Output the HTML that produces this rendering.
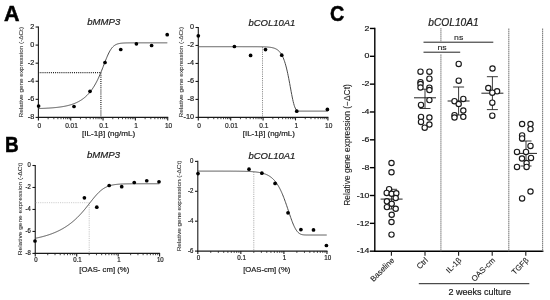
<!DOCTYPE html>
<html><head><meta charset="utf-8"><style>
html,body{margin:0;padding:0;background:#fff;}
svg{display:block;font-family:'Liberation Sans', sans-serif;filter:grayscale(1);}
text{stroke:#1a1a1a;stroke-width:0.1px;paint-order:stroke;}
text.nb{stroke:none;}
text.lab{stroke-width:0.2px;}
text.big{stroke:#000;stroke-width:0.5px;}
</style></head><body>
<svg width="550" height="300" viewBox="0 0 550 300">
<rect width="550" height="300" fill="#fff"/>
<text x="3.9" y="20.8" font-size="21.5" text-anchor="start" fill="#000" font-weight="bold" class="big">A</text>
<text transform="translate(5.00,151.50) scale(0.88,1)" font-size="21.5" text-anchor="start" fill="#000" font-weight="bold" class="big">B</text>
<text transform="translate(329.90,20.60) scale(0.92,1)" font-size="21.5" text-anchor="start" fill="#000" font-weight="bold" class="big">C</text>
<line x1="38.4" y1="26.470000000000002" x2="38.4" y2="117.96999999999998" stroke="#1a1a1a" stroke-width="1.1"/>
<line x1="35.6" y1="27.020000000000003" x2="38.4" y2="27.020000000000003" stroke="#1a1a1a" stroke-width="1.1"/>
<text transform="translate(34.30,28.76) scale(0.92,1)" font-size="7.9" text-anchor="end" fill="#1a1a1a" class="lab">2</text>
<line x1="35.6" y1="45.1" x2="38.4" y2="45.1" stroke="#1a1a1a" stroke-width="1.1"/>
<text transform="translate(34.30,46.84) scale(0.92,1)" font-size="7.9" text-anchor="end" fill="#1a1a1a" class="lab">0</text>
<line x1="35.6" y1="63.18" x2="38.4" y2="63.18" stroke="#1a1a1a" stroke-width="1.1"/>
<text transform="translate(34.30,64.92) scale(0.92,1)" font-size="7.9" text-anchor="end" fill="#1a1a1a" class="lab">-2</text>
<line x1="35.6" y1="81.25999999999999" x2="38.4" y2="81.25999999999999" stroke="#1a1a1a" stroke-width="1.1"/>
<text transform="translate(34.30,83.00) scale(0.92,1)" font-size="7.9" text-anchor="end" fill="#1a1a1a" class="lab">-4</text>
<line x1="35.6" y1="99.34" x2="38.4" y2="99.34" stroke="#1a1a1a" stroke-width="1.1"/>
<text transform="translate(34.30,101.08) scale(0.92,1)" font-size="7.9" text-anchor="end" fill="#1a1a1a" class="lab">-6</text>
<line x1="35.6" y1="117.41999999999999" x2="38.4" y2="117.41999999999999" stroke="#1a1a1a" stroke-width="1.1"/>
<text transform="translate(34.30,119.16) scale(0.92,1)" font-size="7.9" text-anchor="end" fill="#1a1a1a" class="lab">-8</text>
<line x1="37.85" y1="117.41999999999999" x2="168.22" y2="117.41999999999999" stroke="#1a1a1a" stroke-width="1.1"/>
<line x1="38.4" y1="117.41999999999999" x2="38.4" y2="120.41999999999999" stroke="#1a1a1a" stroke-width="1.1"/>
<text transform="translate(39.20,127.72) scale(0.83,1)" font-size="7.9" text-anchor="middle" fill="#1a1a1a" class="lab">0</text>
<line x1="48.13" y1="117.41999999999999" x2="48.13" y2="119.21999999999998" stroke="#1a1a1a" stroke-width="0.8"/>
<line x1="53.83" y1="117.41999999999999" x2="53.83" y2="119.21999999999998" stroke="#1a1a1a" stroke-width="0.8"/>
<line x1="57.86" y1="117.41999999999999" x2="57.86" y2="119.21999999999998" stroke="#1a1a1a" stroke-width="0.8"/>
<line x1="61.00" y1="117.41999999999999" x2="61.00" y2="119.21999999999998" stroke="#1a1a1a" stroke-width="0.8"/>
<line x1="63.56" y1="117.41999999999999" x2="63.56" y2="119.21999999999998" stroke="#1a1a1a" stroke-width="0.8"/>
<line x1="65.72" y1="117.41999999999999" x2="65.72" y2="119.21999999999998" stroke="#1a1a1a" stroke-width="0.8"/>
<line x1="67.60" y1="117.41999999999999" x2="67.60" y2="119.21999999999998" stroke="#1a1a1a" stroke-width="0.8"/>
<line x1="69.25" y1="117.41999999999999" x2="69.25" y2="119.21999999999998" stroke="#1a1a1a" stroke-width="0.8"/>
<line x1="70.72999999999999" y1="117.41999999999999" x2="70.72999999999999" y2="120.41999999999999" stroke="#1a1a1a" stroke-width="1.1"/>
<text transform="translate(71.53,127.72) scale(0.83,1)" font-size="7.9" text-anchor="middle" fill="#1a1a1a" class="lab">0.01</text>
<line x1="80.46" y1="117.41999999999999" x2="80.46" y2="119.21999999999998" stroke="#1a1a1a" stroke-width="0.8"/>
<line x1="86.16" y1="117.41999999999999" x2="86.16" y2="119.21999999999998" stroke="#1a1a1a" stroke-width="0.8"/>
<line x1="90.19" y1="117.41999999999999" x2="90.19" y2="119.21999999999998" stroke="#1a1a1a" stroke-width="0.8"/>
<line x1="93.33" y1="117.41999999999999" x2="93.33" y2="119.21999999999998" stroke="#1a1a1a" stroke-width="0.8"/>
<line x1="95.89" y1="117.41999999999999" x2="95.89" y2="119.21999999999998" stroke="#1a1a1a" stroke-width="0.8"/>
<line x1="98.05" y1="117.41999999999999" x2="98.05" y2="119.21999999999998" stroke="#1a1a1a" stroke-width="0.8"/>
<line x1="99.93" y1="117.41999999999999" x2="99.93" y2="119.21999999999998" stroke="#1a1a1a" stroke-width="0.8"/>
<line x1="101.58" y1="117.41999999999999" x2="101.58" y2="119.21999999999998" stroke="#1a1a1a" stroke-width="0.8"/>
<line x1="103.06" y1="117.41999999999999" x2="103.06" y2="120.41999999999999" stroke="#1a1a1a" stroke-width="1.1"/>
<text transform="translate(103.86,127.72) scale(0.83,1)" font-size="7.9" text-anchor="middle" fill="#1a1a1a" class="lab">0.1</text>
<line x1="112.79" y1="117.41999999999999" x2="112.79" y2="119.21999999999998" stroke="#1a1a1a" stroke-width="0.8"/>
<line x1="118.49" y1="117.41999999999999" x2="118.49" y2="119.21999999999998" stroke="#1a1a1a" stroke-width="0.8"/>
<line x1="122.52" y1="117.41999999999999" x2="122.52" y2="119.21999999999998" stroke="#1a1a1a" stroke-width="0.8"/>
<line x1="125.66" y1="117.41999999999999" x2="125.66" y2="119.21999999999998" stroke="#1a1a1a" stroke-width="0.8"/>
<line x1="128.22" y1="117.41999999999999" x2="128.22" y2="119.21999999999998" stroke="#1a1a1a" stroke-width="0.8"/>
<line x1="130.38" y1="117.41999999999999" x2="130.38" y2="119.21999999999998" stroke="#1a1a1a" stroke-width="0.8"/>
<line x1="132.26" y1="117.41999999999999" x2="132.26" y2="119.21999999999998" stroke="#1a1a1a" stroke-width="0.8"/>
<line x1="133.91" y1="117.41999999999999" x2="133.91" y2="119.21999999999998" stroke="#1a1a1a" stroke-width="0.8"/>
<line x1="135.39" y1="117.41999999999999" x2="135.39" y2="120.41999999999999" stroke="#1a1a1a" stroke-width="1.1"/>
<text transform="translate(136.19,127.72) scale(0.83,1)" font-size="7.9" text-anchor="middle" fill="#1a1a1a" class="lab">1</text>
<line x1="145.12" y1="117.41999999999999" x2="145.12" y2="119.21999999999998" stroke="#1a1a1a" stroke-width="0.8"/>
<line x1="150.82" y1="117.41999999999999" x2="150.82" y2="119.21999999999998" stroke="#1a1a1a" stroke-width="0.8"/>
<line x1="154.85" y1="117.41999999999999" x2="154.85" y2="119.21999999999998" stroke="#1a1a1a" stroke-width="0.8"/>
<line x1="157.99" y1="117.41999999999999" x2="157.99" y2="119.21999999999998" stroke="#1a1a1a" stroke-width="0.8"/>
<line x1="160.55" y1="117.41999999999999" x2="160.55" y2="119.21999999999998" stroke="#1a1a1a" stroke-width="0.8"/>
<line x1="162.71" y1="117.41999999999999" x2="162.71" y2="119.21999999999998" stroke="#1a1a1a" stroke-width="0.8"/>
<line x1="164.59" y1="117.41999999999999" x2="164.59" y2="119.21999999999998" stroke="#1a1a1a" stroke-width="0.8"/>
<line x1="166.24" y1="117.41999999999999" x2="166.24" y2="119.21999999999998" stroke="#1a1a1a" stroke-width="0.8"/>
<line x1="167.72" y1="117.41999999999999" x2="167.72" y2="120.41999999999999" stroke="#1a1a1a" stroke-width="1.1"/>
<text transform="translate(168.52,127.72) scale(0.83,1)" font-size="7.9" text-anchor="middle" fill="#1a1a1a" class="lab">10</text>
<text font-size="6.4" text-anchor="middle" fill="#333" transform="translate(20.6,72.2) scale(0.85,1) rotate(-90)" dy="2.24">Relative gene expression (-ΔCt)</text>
<text x="108.7" y="135.9" font-size="8.1" text-anchor="middle" fill="#1a1a1a" class="lab">[IL-1β] (ng/mL)</text>
<text x="103.8" y="25" font-size="9.6" text-anchor="middle" fill="#1a1a1a" font-style="italic" class="lab">bMMP3</text>
<line x1="38.3" y1="72.6" x2="100.9" y2="72.6" stroke="#222" stroke-width="1.2" stroke-dasharray="1 1.1"/>
<line x1="100.9" y1="72.6" x2="100.9" y2="117.41999999999999" stroke="#222" stroke-width="1.2" stroke-dasharray="1 1.1"/>
<path d="M38.30,108.53 L38.80,108.52 L39.30,108.50 L39.80,108.49 L40.30,108.47 L40.80,108.45 L41.30,108.44 L41.80,108.42 L42.30,108.40 L42.80,108.38 L43.30,108.36 L43.80,108.34 L44.30,108.32 L44.80,108.30 L45.30,108.27 L45.80,108.25 L46.30,108.22 L46.80,108.20 L47.30,108.17 L47.80,108.14 L48.30,108.11 L48.80,108.08 L49.30,108.05 L49.80,108.02 L50.30,107.99 L50.80,107.95 L51.30,107.92 L51.80,107.88 L52.30,107.84 L52.80,107.80 L53.30,107.76 L53.80,107.71 L54.30,107.67 L54.80,107.62 L55.30,107.58 L55.80,107.53 L56.30,107.47 L56.80,107.42 L57.30,107.36 L57.80,107.31 L58.30,107.25 L58.80,107.18 L59.30,107.12 L59.80,107.05 L60.30,106.98 L60.80,106.91 L61.30,106.84 L61.80,106.76 L62.30,106.68 L62.80,106.60 L63.30,106.51 L63.80,106.42 L64.30,106.33 L64.80,106.23 L65.30,106.13 L65.80,106.03 L66.30,105.92 L66.80,105.81 L67.30,105.69 L67.80,105.57 L68.30,105.45 L68.80,105.32 L69.30,105.19 L69.80,105.05 L70.30,104.90 L70.80,104.75 L71.30,104.60 L71.80,104.44 L72.30,104.27 L72.80,104.10 L73.30,103.92 L73.80,103.74 L74.30,103.54 L74.80,103.34 L75.30,103.14 L75.80,102.92 L76.30,102.70 L76.80,102.47 L77.30,102.23 L77.80,101.98 L78.30,101.72 L78.80,101.46 L79.30,101.18 L79.80,100.89 L80.30,100.59 L80.80,100.28 L81.30,99.96 L81.80,99.63 L82.30,99.29 L82.80,98.93 L83.30,98.56 L83.80,98.17 L84.30,97.77 L84.80,97.36 L85.30,96.93 L85.80,96.49 L86.30,96.03 L86.80,95.55 L87.30,95.05 L87.80,94.54 L88.30,94.01 L88.80,93.46 L89.30,92.88 L89.80,92.29 L90.30,91.68 L90.80,91.04 L91.30,90.38 L91.80,89.69 L92.30,88.99 L92.80,88.25 L93.30,87.49 L93.80,86.71 L94.30,85.89 L94.80,85.05 L95.30,84.18 L95.80,83.28 L96.30,82.35 L96.80,81.39 L97.30,80.40 L97.80,79.38 L98.30,78.33 L98.80,77.24 L99.30,76.13 L99.80,74.99 L100.30,73.82 L100.80,72.63 L101.30,71.41 L101.80,70.17 L102.30,68.90 L102.80,67.63 L103.30,66.34 L103.80,65.04 L104.30,63.74 L104.80,62.45 L105.30,61.16 L105.80,59.89 L106.30,58.65 L106.80,57.43 L107.30,56.25 L107.80,55.12 L108.30,54.03 L108.80,52.99 L109.30,52.02 L109.80,51.10 L110.30,50.25 L110.80,49.46 L111.30,48.73 L111.80,48.07 L112.30,47.46 L112.80,46.92 L113.30,46.43 L113.80,45.99 L114.30,45.60 L114.80,45.25 L115.30,44.95 L115.80,44.67 L116.30,44.44 L116.80,44.23 L117.30,44.04 L117.80,43.89 L118.30,43.75 L118.80,43.62 L119.30,43.52 L119.80,43.43 L120.30,43.35 L120.80,43.28 L121.30,43.22 L121.80,43.17 L122.30,43.12 L122.80,43.09 L123.30,43.05 L123.80,43.02 L124.30,43.00 L124.80,42.98 L125.30,42.96 L125.80,42.94 L126.30,42.93 L126.80,42.92 L127.30,42.91 L127.80,42.90 L128.30,42.89 L128.80,42.88 L129.30,42.88 L129.80,42.87 L130.30,42.87 L130.80,42.87 L131.30,42.86 L131.80,42.86 L132.30,42.86 L132.80,42.86 L133.30,42.85 L133.80,42.85 L134.30,42.85 L134.80,42.85 L135.30,42.85 L135.80,42.85 L136.30,42.85 L136.80,42.85 L137.30,42.85 L137.80,42.85 L138.30,42.85 L138.80,42.84 L139.30,42.84 L139.80,42.84 L140.30,42.84 L140.80,42.84 L141.30,42.84 L141.80,42.84 L142.30,42.84 L142.80,42.84 L143.30,42.84 L143.80,42.84 L144.30,42.84 L144.80,42.84 L145.30,42.84 L145.80,42.84 L146.30,42.84 L146.80,42.84 L147.30,42.84 L147.80,42.84 L148.30,42.84 L148.80,42.84 L149.30,42.84 L149.80,42.84 L150.30,42.84 L150.80,42.84 L151.30,42.84 L151.80,42.84 L152.30,42.84 L152.80,42.84 L153.30,42.84 L153.80,42.84 L154.30,42.84 L154.80,42.84 L155.30,42.84 L155.80,42.84 L156.30,42.84 L156.80,42.84 L157.30,42.84 L157.80,42.84 L158.30,42.84 L158.80,42.84 L159.30,42.84 L159.80,42.84 L160.30,42.84 L160.80,42.84 L161.30,42.84 L161.80,42.84 L162.30,42.84 L162.80,42.84 L163.30,42.84 L163.80,42.84 L164.30,42.84 L164.80,42.84 L165.30,42.84 L165.80,42.84 L166.30,42.84 L166.80,42.84 L167.30,42.84" fill="none" stroke="#4a4a4a" stroke-width="1.0" stroke-linejoin="round"/>
<circle cx="38.6" cy="106" r="1.85" fill="#000"/>
<circle cx="74" cy="106.5" r="1.85" fill="#000"/>
<circle cx="90" cy="91.3" r="1.85" fill="#000"/>
<circle cx="105" cy="62.5" r="1.85" fill="#000"/>
<circle cx="120.75" cy="49.5" r="1.85" fill="#000"/>
<circle cx="136.4" cy="43.8" r="1.85" fill="#000"/>
<circle cx="151.6" cy="45.5" r="1.85" fill="#000"/>
<circle cx="167.2" cy="34.7" r="1.85" fill="#000"/>
<line x1="198.3" y1="26.95" x2="198.3" y2="117.95" stroke="#1a1a1a" stroke-width="1.1"/>
<line x1="195.5" y1="27.5" x2="198.3" y2="27.5" stroke="#1a1a1a" stroke-width="1.1"/>
<text transform="translate(194.00,29.24) scale(0.92,1)" font-size="7.9" text-anchor="end" fill="#1a1a1a" class="lab">0</text>
<line x1="195.5" y1="45.480000000000004" x2="198.3" y2="45.480000000000004" stroke="#1a1a1a" stroke-width="1.1"/>
<text transform="translate(194.00,47.22) scale(0.92,1)" font-size="7.9" text-anchor="end" fill="#1a1a1a" class="lab">-2</text>
<line x1="195.5" y1="63.46" x2="198.3" y2="63.46" stroke="#1a1a1a" stroke-width="1.1"/>
<text transform="translate(194.00,65.20) scale(0.92,1)" font-size="7.9" text-anchor="end" fill="#1a1a1a" class="lab">-4</text>
<line x1="195.5" y1="81.44" x2="198.3" y2="81.44" stroke="#1a1a1a" stroke-width="1.1"/>
<text transform="translate(194.00,83.18) scale(0.92,1)" font-size="7.9" text-anchor="end" fill="#1a1a1a" class="lab">-6</text>
<line x1="195.5" y1="99.42" x2="198.3" y2="99.42" stroke="#1a1a1a" stroke-width="1.1"/>
<text transform="translate(194.00,101.16) scale(0.92,1)" font-size="7.9" text-anchor="end" fill="#1a1a1a" class="lab">-8</text>
<line x1="195.5" y1="117.4" x2="198.3" y2="117.4" stroke="#1a1a1a" stroke-width="1.1"/>
<text transform="translate(194.00,119.14) scale(0.92,1)" font-size="7.9" text-anchor="end" fill="#1a1a1a" class="lab">-10</text>
<line x1="197.75" y1="117.4" x2="328.4" y2="117.4" stroke="#1a1a1a" stroke-width="1.1"/>
<line x1="198.3" y1="117.4" x2="198.3" y2="120.4" stroke="#1a1a1a" stroke-width="1.1"/>
<text transform="translate(199.10,127.70) scale(0.83,1)" font-size="7.9" text-anchor="middle" fill="#1a1a1a" class="lab">0</text>
<line x1="208.05" y1="117.4" x2="208.05" y2="119.2" stroke="#1a1a1a" stroke-width="0.8"/>
<line x1="213.76" y1="117.4" x2="213.76" y2="119.2" stroke="#1a1a1a" stroke-width="0.8"/>
<line x1="217.81" y1="117.4" x2="217.81" y2="119.2" stroke="#1a1a1a" stroke-width="0.8"/>
<line x1="220.95" y1="117.4" x2="220.95" y2="119.2" stroke="#1a1a1a" stroke-width="0.8"/>
<line x1="223.51" y1="117.4" x2="223.51" y2="119.2" stroke="#1a1a1a" stroke-width="0.8"/>
<line x1="225.68" y1="117.4" x2="225.68" y2="119.2" stroke="#1a1a1a" stroke-width="0.8"/>
<line x1="227.56" y1="117.4" x2="227.56" y2="119.2" stroke="#1a1a1a" stroke-width="0.8"/>
<line x1="229.22" y1="117.4" x2="229.22" y2="119.2" stroke="#1a1a1a" stroke-width="0.8"/>
<line x1="230.70000000000002" y1="117.4" x2="230.70000000000002" y2="120.4" stroke="#1a1a1a" stroke-width="1.1"/>
<text transform="translate(231.50,127.70) scale(0.83,1)" font-size="7.9" text-anchor="middle" fill="#1a1a1a" class="lab">0.01</text>
<line x1="240.45" y1="117.4" x2="240.45" y2="119.2" stroke="#1a1a1a" stroke-width="0.8"/>
<line x1="246.16" y1="117.4" x2="246.16" y2="119.2" stroke="#1a1a1a" stroke-width="0.8"/>
<line x1="250.21" y1="117.4" x2="250.21" y2="119.2" stroke="#1a1a1a" stroke-width="0.8"/>
<line x1="253.35" y1="117.4" x2="253.35" y2="119.2" stroke="#1a1a1a" stroke-width="0.8"/>
<line x1="255.91" y1="117.4" x2="255.91" y2="119.2" stroke="#1a1a1a" stroke-width="0.8"/>
<line x1="258.08" y1="117.4" x2="258.08" y2="119.2" stroke="#1a1a1a" stroke-width="0.8"/>
<line x1="259.96" y1="117.4" x2="259.96" y2="119.2" stroke="#1a1a1a" stroke-width="0.8"/>
<line x1="261.62" y1="117.4" x2="261.62" y2="119.2" stroke="#1a1a1a" stroke-width="0.8"/>
<line x1="263.1" y1="117.4" x2="263.1" y2="120.4" stroke="#1a1a1a" stroke-width="1.1"/>
<text transform="translate(263.90,127.70) scale(0.83,1)" font-size="7.9" text-anchor="middle" fill="#1a1a1a" class="lab">0.1</text>
<line x1="272.85" y1="117.4" x2="272.85" y2="119.2" stroke="#1a1a1a" stroke-width="0.8"/>
<line x1="278.56" y1="117.4" x2="278.56" y2="119.2" stroke="#1a1a1a" stroke-width="0.8"/>
<line x1="282.61" y1="117.4" x2="282.61" y2="119.2" stroke="#1a1a1a" stroke-width="0.8"/>
<line x1="285.75" y1="117.4" x2="285.75" y2="119.2" stroke="#1a1a1a" stroke-width="0.8"/>
<line x1="288.31" y1="117.4" x2="288.31" y2="119.2" stroke="#1a1a1a" stroke-width="0.8"/>
<line x1="290.48" y1="117.4" x2="290.48" y2="119.2" stroke="#1a1a1a" stroke-width="0.8"/>
<line x1="292.36" y1="117.4" x2="292.36" y2="119.2" stroke="#1a1a1a" stroke-width="0.8"/>
<line x1="294.02" y1="117.4" x2="294.02" y2="119.2" stroke="#1a1a1a" stroke-width="0.8"/>
<line x1="295.5" y1="117.4" x2="295.5" y2="120.4" stroke="#1a1a1a" stroke-width="1.1"/>
<text transform="translate(296.30,127.70) scale(0.83,1)" font-size="7.9" text-anchor="middle" fill="#1a1a1a" class="lab">1</text>
<line x1="305.25" y1="117.4" x2="305.25" y2="119.2" stroke="#1a1a1a" stroke-width="0.8"/>
<line x1="310.96" y1="117.4" x2="310.96" y2="119.2" stroke="#1a1a1a" stroke-width="0.8"/>
<line x1="315.01" y1="117.4" x2="315.01" y2="119.2" stroke="#1a1a1a" stroke-width="0.8"/>
<line x1="318.15" y1="117.4" x2="318.15" y2="119.2" stroke="#1a1a1a" stroke-width="0.8"/>
<line x1="320.71" y1="117.4" x2="320.71" y2="119.2" stroke="#1a1a1a" stroke-width="0.8"/>
<line x1="322.88" y1="117.4" x2="322.88" y2="119.2" stroke="#1a1a1a" stroke-width="0.8"/>
<line x1="324.76" y1="117.4" x2="324.76" y2="119.2" stroke="#1a1a1a" stroke-width="0.8"/>
<line x1="326.42" y1="117.4" x2="326.42" y2="119.2" stroke="#1a1a1a" stroke-width="0.8"/>
<line x1="327.9" y1="117.4" x2="327.9" y2="120.4" stroke="#1a1a1a" stroke-width="1.1"/>
<text transform="translate(328.70,127.70) scale(0.83,1)" font-size="7.9" text-anchor="middle" fill="#1a1a1a" class="lab">10</text>
<text font-size="6.4" text-anchor="middle" fill="#333" transform="translate(181.0,72.2) scale(0.85,1) rotate(-90)" dy="2.24">Relative gene expression (-ΔCt)</text>
<text transform="translate(268.80,135.90) scale(0.98,1)" font-size="8.1" text-anchor="middle" fill="#1a1a1a" class="lab">[IL-1β] (ng/mL)</text>
<text x="271.9" y="25.5" font-size="9.5" text-anchor="middle" fill="#1a1a1a" font-style="italic" class="lab">bCOL10A1</text>
<line x1="262.5" y1="47.2" x2="262.5" y2="117.4" stroke="#888" stroke-width="1.0" stroke-dasharray="1.1 1.1"/>
<path d="M198.20,46.70 L198.70,46.70 L199.20,46.70 L199.70,46.70 L200.20,46.70 L200.70,46.70 L201.20,46.70 L201.70,46.70 L202.20,46.70 L202.70,46.70 L203.20,46.70 L203.70,46.70 L204.20,46.70 L204.70,46.70 L205.20,46.70 L205.70,46.70 L206.20,46.70 L206.70,46.70 L207.20,46.70 L207.70,46.70 L208.20,46.70 L208.70,46.70 L209.20,46.70 L209.70,46.70 L210.20,46.70 L210.70,46.70 L211.20,46.70 L211.70,46.70 L212.20,46.70 L212.70,46.70 L213.20,46.70 L213.70,46.70 L214.20,46.70 L214.70,46.70 L215.20,46.70 L215.70,46.70 L216.20,46.70 L216.70,46.70 L217.20,46.70 L217.70,46.70 L218.20,46.70 L218.70,46.70 L219.20,46.70 L219.70,46.70 L220.20,46.70 L220.70,46.70 L221.20,46.70 L221.70,46.70 L222.20,46.70 L222.70,46.70 L223.20,46.70 L223.70,46.70 L224.20,46.70 L224.70,46.70 L225.20,46.70 L225.70,46.70 L226.20,46.70 L226.70,46.70 L227.20,46.70 L227.70,46.70 L228.20,46.70 L228.70,46.70 L229.20,46.70 L229.70,46.70 L230.20,46.70 L230.70,46.70 L231.20,46.70 L231.70,46.70 L232.20,46.70 L232.70,46.70 L233.20,46.70 L233.70,46.70 L234.20,46.70 L234.70,46.70 L235.20,46.70 L235.70,46.70 L236.20,46.70 L236.70,46.70 L237.20,46.70 L237.70,46.70 L238.20,46.70 L238.70,46.70 L239.20,46.70 L239.70,46.70 L240.20,46.70 L240.70,46.70 L241.20,46.70 L241.70,46.70 L242.20,46.70 L242.70,46.71 L243.20,46.71 L243.70,46.71 L244.20,46.71 L244.70,46.71 L245.20,46.71 L245.70,46.71 L246.20,46.71 L246.70,46.71 L247.20,46.71 L247.70,46.71 L248.20,46.71 L248.70,46.71 L249.20,46.71 L249.70,46.71 L250.20,46.71 L250.70,46.71 L251.20,46.71 L251.70,46.71 L252.20,46.71 L252.70,46.71 L253.20,46.72 L253.70,46.72 L254.20,46.72 L254.70,46.72 L255.20,46.72 L255.70,46.72 L256.20,46.73 L256.70,46.73 L257.20,46.73 L257.70,46.74 L258.20,46.74 L258.70,46.75 L259.20,46.75 L259.70,46.76 L260.20,46.76 L260.70,46.77 L261.20,46.78 L261.70,46.79 L262.20,46.80 L262.70,46.81 L263.20,46.82 L263.70,46.84 L264.20,46.85 L264.70,46.87 L265.20,46.89 L265.70,46.92 L266.20,46.94 L266.70,46.97 L267.20,47.00 L267.70,47.04 L268.20,47.08 L268.70,47.13 L269.20,47.18 L269.70,47.24 L270.20,47.30 L270.70,47.37 L271.20,47.46 L271.70,47.55 L272.20,47.65 L272.70,47.77 L273.20,47.90 L273.70,48.04 L274.20,48.20 L274.70,48.38 L275.20,48.59 L275.70,48.81 L276.20,49.07 L276.70,49.35 L277.20,49.67 L277.70,50.02 L278.20,50.42 L278.70,50.86 L279.20,51.35 L279.70,51.89 L280.20,52.50 L280.70,53.18 L281.20,53.92 L281.70,54.75 L282.20,55.67 L282.70,56.68 L283.20,57.79 L283.70,59.01 L284.20,60.35 L284.70,61.81 L285.20,63.40 L285.70,65.12 L286.20,66.98 L286.70,68.98 L287.20,71.12 L287.70,73.39 L288.20,75.78 L288.70,78.29 L289.20,80.90 L289.70,83.58 L290.20,86.30 L290.70,89.04 L291.20,91.76 L291.70,94.41 L292.20,96.96 L292.70,99.36 L293.20,101.57 L293.70,103.56 L294.20,105.31 L294.70,106.79 L295.20,108.01 L295.70,108.97 L296.20,109.70 L296.70,110.23 L297.20,110.59 L297.70,110.82 L298.20,110.96 L298.70,111.04 L299.20,111.08 L299.70,111.10 L300.20,111.11 L300.70,111.11 L301.20,111.11 L301.70,111.11 L302.20,111.11 L302.70,111.11 L303.20,111.11 L303.70,111.11 L304.20,111.11 L304.70,111.11 L305.20,111.11 L305.70,111.11 L306.20,111.11 L306.70,111.11 L307.20,111.11 L307.70,111.11 L308.20,111.11 L308.70,111.11 L309.20,111.11 L309.70,111.11 L310.20,111.11 L310.70,111.11 L311.20,111.11 L311.70,111.11 L312.20,111.11 L312.70,111.11 L313.20,111.11 L313.70,111.11 L314.20,111.11 L314.70,111.11 L315.20,111.11 L315.70,111.11 L316.20,111.11 L316.70,111.11 L317.20,111.11 L317.70,111.11 L318.20,111.11 L318.70,111.11 L319.20,111.11 L319.70,111.11 L320.20,111.11 L320.70,111.11 L321.20,111.11 L321.70,111.11 L322.20,111.11 L322.70,111.11 L323.20,111.11 L323.70,111.11 L324.20,111.11 L324.70,111.11 L325.20,111.11 L325.70,111.11 L326.20,111.11 L326.70,111.11 L327.20,111.11 L327.70,111.11" fill="none" stroke="#4a4a4a" stroke-width="1.0" stroke-linejoin="round"/>
<circle cx="198.3" cy="35.8" r="1.85" fill="#000"/>
<circle cx="234.4" cy="46.5" r="1.85" fill="#000"/>
<circle cx="250.6" cy="55.4" r="1.85" fill="#000"/>
<circle cx="265.5" cy="49.6" r="1.85" fill="#000"/>
<circle cx="281.75" cy="55.2" r="1.85" fill="#000"/>
<circle cx="296.75" cy="111.2" r="1.85" fill="#000"/>
<circle cx="327.4" cy="109.4" r="1.85" fill="#000"/>
<line x1="35.25" y1="164.95" x2="35.25" y2="253.97000000000003" stroke="#1a1a1a" stroke-width="1.1"/>
<line x1="32.45" y1="165.5" x2="35.25" y2="165.5" stroke="#1a1a1a" stroke-width="1.1"/>
<text transform="translate(30.85,167.08) scale(0.9,1)" font-size="6.6" text-anchor="end" fill="#1a1a1a" class="lab">0</text>
<line x1="32.45" y1="187.48" x2="35.25" y2="187.48" stroke="#1a1a1a" stroke-width="1.1"/>
<text transform="translate(30.85,189.06) scale(0.9,1)" font-size="6.6" text-anchor="end" fill="#1a1a1a" class="lab">-2</text>
<line x1="32.45" y1="209.46" x2="35.25" y2="209.46" stroke="#1a1a1a" stroke-width="1.1"/>
<text transform="translate(30.85,211.04) scale(0.9,1)" font-size="6.6" text-anchor="end" fill="#1a1a1a" class="lab">-4</text>
<line x1="32.45" y1="231.44" x2="35.25" y2="231.44" stroke="#1a1a1a" stroke-width="1.1"/>
<text transform="translate(30.85,233.02) scale(0.9,1)" font-size="6.6" text-anchor="end" fill="#1a1a1a" class="lab">-6</text>
<line x1="32.45" y1="253.42000000000002" x2="35.25" y2="253.42000000000002" stroke="#1a1a1a" stroke-width="1.1"/>
<text transform="translate(30.85,255.00) scale(0.9,1)" font-size="6.6" text-anchor="end" fill="#1a1a1a" class="lab">-8</text>
<line x1="34.7" y1="253.42000000000002" x2="160.10000000000002" y2="253.42000000000002" stroke="#1a1a1a" stroke-width="1.1"/>
<line x1="35.25" y1="253.42000000000002" x2="35.25" y2="256.42" stroke="#1a1a1a" stroke-width="1.1"/>
<text transform="translate(35.95,262.22) scale(0.92,1)" font-size="6.6" text-anchor="middle" fill="#1a1a1a" class="lab">0</text>
<line x1="47.73" y1="253.42000000000002" x2="47.73" y2="255.22000000000003" stroke="#1a1a1a" stroke-width="0.8"/>
<line x1="55.03" y1="253.42000000000002" x2="55.03" y2="255.22000000000003" stroke="#1a1a1a" stroke-width="0.8"/>
<line x1="60.21" y1="253.42000000000002" x2="60.21" y2="255.22000000000003" stroke="#1a1a1a" stroke-width="0.8"/>
<line x1="64.22" y1="253.42000000000002" x2="64.22" y2="255.22000000000003" stroke="#1a1a1a" stroke-width="0.8"/>
<line x1="67.50" y1="253.42000000000002" x2="67.50" y2="255.22000000000003" stroke="#1a1a1a" stroke-width="0.8"/>
<line x1="70.28" y1="253.42000000000002" x2="70.28" y2="255.22000000000003" stroke="#1a1a1a" stroke-width="0.8"/>
<line x1="72.68" y1="253.42000000000002" x2="72.68" y2="255.22000000000003" stroke="#1a1a1a" stroke-width="0.8"/>
<line x1="74.80" y1="253.42000000000002" x2="74.80" y2="255.22000000000003" stroke="#1a1a1a" stroke-width="0.8"/>
<line x1="76.7" y1="253.42000000000002" x2="76.7" y2="256.42" stroke="#1a1a1a" stroke-width="1.1"/>
<text transform="translate(77.40,262.22) scale(0.92,1)" font-size="6.6" text-anchor="middle" fill="#1a1a1a" class="lab">0.1</text>
<line x1="89.18" y1="253.42000000000002" x2="89.18" y2="255.22000000000003" stroke="#1a1a1a" stroke-width="0.8"/>
<line x1="96.48" y1="253.42000000000002" x2="96.48" y2="255.22000000000003" stroke="#1a1a1a" stroke-width="0.8"/>
<line x1="101.66" y1="253.42000000000002" x2="101.66" y2="255.22000000000003" stroke="#1a1a1a" stroke-width="0.8"/>
<line x1="105.67" y1="253.42000000000002" x2="105.67" y2="255.22000000000003" stroke="#1a1a1a" stroke-width="0.8"/>
<line x1="108.95" y1="253.42000000000002" x2="108.95" y2="255.22000000000003" stroke="#1a1a1a" stroke-width="0.8"/>
<line x1="111.73" y1="253.42000000000002" x2="111.73" y2="255.22000000000003" stroke="#1a1a1a" stroke-width="0.8"/>
<line x1="114.13" y1="253.42000000000002" x2="114.13" y2="255.22000000000003" stroke="#1a1a1a" stroke-width="0.8"/>
<line x1="116.25" y1="253.42000000000002" x2="116.25" y2="255.22000000000003" stroke="#1a1a1a" stroke-width="0.8"/>
<line x1="118.15" y1="253.42000000000002" x2="118.15" y2="256.42" stroke="#1a1a1a" stroke-width="1.1"/>
<text transform="translate(118.85,262.22) scale(0.92,1)" font-size="6.6" text-anchor="middle" fill="#1a1a1a" class="lab">1</text>
<line x1="130.63" y1="253.42000000000002" x2="130.63" y2="255.22000000000003" stroke="#1a1a1a" stroke-width="0.8"/>
<line x1="137.93" y1="253.42000000000002" x2="137.93" y2="255.22000000000003" stroke="#1a1a1a" stroke-width="0.8"/>
<line x1="143.11" y1="253.42000000000002" x2="143.11" y2="255.22000000000003" stroke="#1a1a1a" stroke-width="0.8"/>
<line x1="147.12" y1="253.42000000000002" x2="147.12" y2="255.22000000000003" stroke="#1a1a1a" stroke-width="0.8"/>
<line x1="150.40" y1="253.42000000000002" x2="150.40" y2="255.22000000000003" stroke="#1a1a1a" stroke-width="0.8"/>
<line x1="153.18" y1="253.42000000000002" x2="153.18" y2="255.22000000000003" stroke="#1a1a1a" stroke-width="0.8"/>
<line x1="155.58" y1="253.42000000000002" x2="155.58" y2="255.22000000000003" stroke="#1a1a1a" stroke-width="0.8"/>
<line x1="157.70" y1="253.42000000000002" x2="157.70" y2="255.22000000000003" stroke="#1a1a1a" stroke-width="0.8"/>
<line x1="159.60000000000002" y1="253.42000000000002" x2="159.60000000000002" y2="256.42" stroke="#1a1a1a" stroke-width="1.1"/>
<text transform="translate(160.30,262.22) scale(0.92,1)" font-size="6.6" text-anchor="middle" fill="#1a1a1a" class="lab">10</text>
<text font-size="6.55" text-anchor="middle" fill="#333" transform="translate(20.2,208.9) scale(0.85,1) rotate(-90)" dy="2.29">Relative gene expression  (-ΔCt)</text>
<text x="104.3" y="272.3" font-size="7.75" text-anchor="middle" fill="#1a1a1a" class="lab">[OAS- cm] (%)</text>
<text x="103.5" y="157.7" font-size="9.6" text-anchor="middle" fill="#1a1a1a" font-style="italic" class="lab">bMMP3</text>
<line x1="35.8" y1="202.7" x2="89.2" y2="202.7" stroke="#ccc" stroke-width="1.0" stroke-dasharray="1.1 1.1"/>
<line x1="89.2" y1="202.7" x2="89.2" y2="253.42000000000002" stroke="#c4c4c4" stroke-width="1.0" stroke-dasharray="1.1 1.1"/>
<path d="M35.30,238.27 L35.80,238.17 L36.30,238.07 L36.80,237.97 L37.30,237.86 L37.80,237.76 L38.30,237.65 L38.80,237.54 L39.30,237.42 L39.80,237.31 L40.30,237.19 L40.80,237.07 L41.30,236.94 L41.80,236.82 L42.30,236.69 L42.80,236.56 L43.30,236.43 L43.80,236.29 L44.30,236.15 L44.80,236.01 L45.30,235.87 L45.80,235.72 L46.30,235.57 L46.80,235.42 L47.30,235.26 L47.80,235.11 L48.30,234.94 L48.80,234.78 L49.30,234.61 L49.80,234.44 L50.30,234.27 L50.80,234.09 L51.30,233.91 L51.80,233.72 L52.30,233.53 L52.80,233.34 L53.30,233.14 L53.80,232.94 L54.30,232.74 L54.80,232.53 L55.30,232.32 L55.80,232.10 L56.30,231.88 L56.80,231.65 L57.30,231.42 L57.80,231.19 L58.30,230.95 L58.80,230.71 L59.30,230.46 L59.80,230.21 L60.30,229.95 L60.80,229.69 L61.30,229.42 L61.80,229.14 L62.30,228.86 L62.80,228.58 L63.30,228.29 L63.80,228.00 L64.30,227.69 L64.80,227.39 L65.30,227.07 L65.80,226.76 L66.30,226.43 L66.80,226.10 L67.30,225.76 L67.80,225.42 L68.30,225.07 L68.80,224.71 L69.30,224.34 L69.80,223.97 L70.30,223.59 L70.80,223.21 L71.30,222.82 L71.80,222.42 L72.30,222.01 L72.80,221.59 L73.30,221.17 L73.80,220.74 L74.30,220.30 L74.80,219.86 L75.30,219.40 L75.80,218.94 L76.30,218.47 L76.80,217.99 L77.30,217.51 L77.80,217.01 L78.30,216.51 L78.80,216.00 L79.30,215.48 L79.80,214.96 L80.30,214.42 L80.80,213.88 L81.30,213.33 L81.80,212.77 L82.30,212.20 L82.80,211.63 L83.30,211.05 L83.80,210.46 L84.30,209.86 L84.80,209.26 L85.30,208.65 L85.80,208.04 L86.30,207.42 L86.80,206.80 L87.30,206.17 L87.80,205.54 L88.30,204.91 L88.80,204.27 L89.30,203.63 L89.80,202.99 L90.30,202.35 L90.80,201.72 L91.30,201.08 L91.80,200.45 L92.30,199.81 L92.80,199.19 L93.30,198.57 L93.80,197.96 L94.30,197.35 L94.80,196.75 L95.30,196.17 L95.80,195.59 L96.30,195.02 L96.80,194.47 L97.30,193.93 L97.80,193.41 L98.30,192.90 L98.80,192.40 L99.30,191.92 L99.80,191.46 L100.30,191.02 L100.80,190.59 L101.30,190.18 L101.80,189.79 L102.30,189.41 L102.80,189.05 L103.30,188.71 L103.80,188.39 L104.30,188.08 L104.80,187.79 L105.30,187.52 L105.80,187.26 L106.30,187.02 L106.80,186.79 L107.30,186.57 L107.80,186.37 L108.30,186.18 L108.80,186.00 L109.30,185.84 L109.80,185.68 L110.30,185.54 L110.80,185.41 L111.30,185.28 L111.80,185.17 L112.30,185.06 L112.80,184.96 L113.30,184.86 L113.80,184.78 L114.30,184.70 L114.80,184.62 L115.30,184.56 L115.80,184.49 L116.30,184.43 L116.80,184.38 L117.30,184.33 L117.80,184.28 L118.30,184.24 L118.80,184.20 L119.30,184.16 L119.80,184.13 L120.30,184.10 L120.80,184.07 L121.30,184.04 L121.80,184.02 L122.30,184.00 L122.80,183.98 L123.30,183.96 L123.80,183.94 L124.30,183.92 L124.80,183.91 L125.30,183.89 L125.80,183.88 L126.30,183.87 L126.80,183.86 L127.30,183.85 L127.80,183.84 L128.30,183.83 L128.80,183.82 L129.30,183.82 L129.80,183.81 L130.30,183.80 L130.80,183.80 L131.30,183.79 L131.80,183.79 L132.30,183.79 L132.80,183.78 L133.30,183.78 L133.80,183.77 L134.30,183.77 L134.80,183.77 L135.30,183.77 L135.80,183.76 L136.30,183.76 L136.80,183.76 L137.30,183.76 L137.80,183.76 L138.30,183.75 L138.80,183.75 L139.30,183.75 L139.80,183.75 L140.30,183.75 L140.80,183.75 L141.30,183.75 L141.80,183.75 L142.30,183.74 L142.80,183.74 L143.30,183.74 L143.80,183.74 L144.30,183.74 L144.80,183.74 L145.30,183.74 L145.80,183.74 L146.30,183.74 L146.80,183.74 L147.30,183.74 L147.80,183.74 L148.30,183.74 L148.80,183.74 L149.30,183.74 L149.80,183.74 L150.30,183.74 L150.80,183.74 L151.30,183.74 L151.80,183.74 L152.30,183.74 L152.80,183.74 L153.30,183.74 L153.80,183.74 L154.30,183.74 L154.80,183.74 L155.30,183.74 L155.80,183.74 L156.30,183.74 L156.80,183.74 L157.30,183.74 L157.80,183.74 L158.30,183.74 L158.80,183.74 L159.30,183.74" fill="none" stroke="#4a4a4a" stroke-width="1.0" stroke-linejoin="round"/>
<circle cx="35" cy="241" r="1.85" fill="#000"/>
<circle cx="84.4" cy="197.8" r="1.85" fill="#000"/>
<circle cx="96.8" cy="207.2" r="1.85" fill="#000"/>
<circle cx="109.2" cy="185.5" r="1.85" fill="#000"/>
<circle cx="121.7" cy="186.7" r="1.85" fill="#000"/>
<circle cx="134.25" cy="182.5" r="1.85" fill="#000"/>
<circle cx="146.75" cy="180.75" r="1.85" fill="#000"/>
<circle cx="159" cy="181.75" r="1.85" fill="#000"/>
<line x1="197.8" y1="160.85" x2="197.8" y2="251.65" stroke="#1a1a1a" stroke-width="1.1"/>
<line x1="195.0" y1="161.4" x2="197.8" y2="161.4" stroke="#1a1a1a" stroke-width="1.1"/>
<text transform="translate(193.40,163.05) scale(0.9,1)" font-size="6.8" text-anchor="end" fill="#1a1a1a" class="lab">0</text>
<line x1="195.0" y1="191.3" x2="197.8" y2="191.3" stroke="#1a1a1a" stroke-width="1.1"/>
<text transform="translate(193.40,192.95) scale(0.9,1)" font-size="6.8" text-anchor="end" fill="#1a1a1a" class="lab">-2</text>
<line x1="195.0" y1="221.2" x2="197.8" y2="221.2" stroke="#1a1a1a" stroke-width="1.1"/>
<text transform="translate(193.40,222.85) scale(0.9,1)" font-size="6.8" text-anchor="end" fill="#1a1a1a" class="lab">-4</text>
<line x1="195.0" y1="251.1" x2="197.8" y2="251.1" stroke="#1a1a1a" stroke-width="1.1"/>
<text transform="translate(193.40,252.75) scale(0.9,1)" font-size="6.8" text-anchor="end" fill="#1a1a1a" class="lab">-6</text>
<line x1="197.25" y1="251.1" x2="327.45" y2="251.1" stroke="#1a1a1a" stroke-width="1.1"/>
<line x1="197.8" y1="251.1" x2="197.8" y2="254.1" stroke="#1a1a1a" stroke-width="1.1"/>
<text transform="translate(198.50,260.00) scale(0.92,1)" font-size="6.8" text-anchor="middle" fill="#1a1a1a" class="lab">0</text>
<line x1="210.76" y1="251.1" x2="210.76" y2="252.9" stroke="#1a1a1a" stroke-width="0.8"/>
<line x1="218.34" y1="251.1" x2="218.34" y2="252.9" stroke="#1a1a1a" stroke-width="0.8"/>
<line x1="223.72" y1="251.1" x2="223.72" y2="252.9" stroke="#1a1a1a" stroke-width="0.8"/>
<line x1="227.89" y1="251.1" x2="227.89" y2="252.9" stroke="#1a1a1a" stroke-width="0.8"/>
<line x1="231.30" y1="251.1" x2="231.30" y2="252.9" stroke="#1a1a1a" stroke-width="0.8"/>
<line x1="234.18" y1="251.1" x2="234.18" y2="252.9" stroke="#1a1a1a" stroke-width="0.8"/>
<line x1="236.68" y1="251.1" x2="236.68" y2="252.9" stroke="#1a1a1a" stroke-width="0.8"/>
<line x1="238.88" y1="251.1" x2="238.88" y2="252.9" stroke="#1a1a1a" stroke-width="0.8"/>
<line x1="240.85000000000002" y1="251.1" x2="240.85000000000002" y2="254.1" stroke="#1a1a1a" stroke-width="1.1"/>
<text transform="translate(241.55,260.00) scale(0.92,1)" font-size="6.8" text-anchor="middle" fill="#1a1a1a" class="lab">0.1</text>
<line x1="253.81" y1="251.1" x2="253.81" y2="252.9" stroke="#1a1a1a" stroke-width="0.8"/>
<line x1="261.39" y1="251.1" x2="261.39" y2="252.9" stroke="#1a1a1a" stroke-width="0.8"/>
<line x1="266.77" y1="251.1" x2="266.77" y2="252.9" stroke="#1a1a1a" stroke-width="0.8"/>
<line x1="270.94" y1="251.1" x2="270.94" y2="252.9" stroke="#1a1a1a" stroke-width="0.8"/>
<line x1="274.35" y1="251.1" x2="274.35" y2="252.9" stroke="#1a1a1a" stroke-width="0.8"/>
<line x1="277.23" y1="251.1" x2="277.23" y2="252.9" stroke="#1a1a1a" stroke-width="0.8"/>
<line x1="279.73" y1="251.1" x2="279.73" y2="252.9" stroke="#1a1a1a" stroke-width="0.8"/>
<line x1="281.93" y1="251.1" x2="281.93" y2="252.9" stroke="#1a1a1a" stroke-width="0.8"/>
<line x1="283.9" y1="251.1" x2="283.9" y2="254.1" stroke="#1a1a1a" stroke-width="1.1"/>
<text transform="translate(284.60,260.00) scale(0.92,1)" font-size="6.8" text-anchor="middle" fill="#1a1a1a" class="lab">1</text>
<line x1="296.86" y1="251.1" x2="296.86" y2="252.9" stroke="#1a1a1a" stroke-width="0.8"/>
<line x1="304.44" y1="251.1" x2="304.44" y2="252.9" stroke="#1a1a1a" stroke-width="0.8"/>
<line x1="309.82" y1="251.1" x2="309.82" y2="252.9" stroke="#1a1a1a" stroke-width="0.8"/>
<line x1="313.99" y1="251.1" x2="313.99" y2="252.9" stroke="#1a1a1a" stroke-width="0.8"/>
<line x1="317.40" y1="251.1" x2="317.40" y2="252.9" stroke="#1a1a1a" stroke-width="0.8"/>
<line x1="320.28" y1="251.1" x2="320.28" y2="252.9" stroke="#1a1a1a" stroke-width="0.8"/>
<line x1="322.78" y1="251.1" x2="322.78" y2="252.9" stroke="#1a1a1a" stroke-width="0.8"/>
<line x1="324.98" y1="251.1" x2="324.98" y2="252.9" stroke="#1a1a1a" stroke-width="0.8"/>
<line x1="326.95" y1="251.1" x2="326.95" y2="254.1" stroke="#1a1a1a" stroke-width="1.1"/>
<text transform="translate(327.65,260.00) scale(0.92,1)" font-size="6.8" text-anchor="middle" fill="#1a1a1a" class="lab">10</text>
<text font-size="6.42" text-anchor="middle" fill="#333" transform="translate(179.4,206) scale(0.85,1) rotate(-90)" dy="2.25">Relative gene expression  (-ΔCt)</text>
<text x="266.7" y="272.3" font-size="7.65" text-anchor="middle" fill="#1a1a1a" class="lab">[OAS-cm] (%)</text>
<text x="271.9" y="158.5" font-size="9.5" text-anchor="middle" fill="#1a1a1a" font-style="italic" class="lab">bCOL10A1</text>
<line x1="253.8" y1="171.8" x2="253.8" y2="251.1" stroke="#aaa" stroke-width="1.0" stroke-dasharray="1.1 1.1"/>
<path d="M197.70,171.11 L198.20,171.11 L198.70,171.11 L199.20,171.11 L199.70,171.11 L200.20,171.11 L200.70,171.11 L201.20,171.11 L201.70,171.11 L202.20,171.11 L202.70,171.11 L203.20,171.11 L203.70,171.11 L204.20,171.11 L204.70,171.11 L205.20,171.11 L205.70,171.11 L206.20,171.11 L206.70,171.11 L207.20,171.11 L207.70,171.11 L208.20,171.11 L208.70,171.12 L209.20,171.12 L209.70,171.12 L210.20,171.12 L210.70,171.12 L211.20,171.12 L211.70,171.12 L212.20,171.12 L212.70,171.12 L213.20,171.12 L213.70,171.12 L214.20,171.12 L214.70,171.12 L215.20,171.12 L215.70,171.12 L216.20,171.12 L216.70,171.12 L217.20,171.12 L217.70,171.12 L218.20,171.12 L218.70,171.12 L219.20,171.12 L219.70,171.12 L220.20,171.12 L220.70,171.12 L221.20,171.12 L221.70,171.12 L222.20,171.12 L222.70,171.12 L223.20,171.13 L223.70,171.13 L224.20,171.13 L224.70,171.13 L225.20,171.13 L225.70,171.13 L226.20,171.13 L226.70,171.13 L227.20,171.13 L227.70,171.13 L228.20,171.14 L228.70,171.14 L229.20,171.14 L229.70,171.14 L230.20,171.14 L230.70,171.14 L231.20,171.15 L231.70,171.15 L232.20,171.15 L232.70,171.15 L233.20,171.16 L233.70,171.16 L234.20,171.16 L234.70,171.17 L235.20,171.17 L235.70,171.17 L236.20,171.18 L236.70,171.18 L237.20,171.19 L237.70,171.19 L238.20,171.20 L238.70,171.20 L239.20,171.21 L239.70,171.22 L240.20,171.22 L240.70,171.23 L241.20,171.24 L241.70,171.25 L242.20,171.26 L242.70,171.27 L243.20,171.28 L243.70,171.29 L244.20,171.30 L244.70,171.31 L245.20,171.33 L245.70,171.34 L246.20,171.36 L246.70,171.37 L247.20,171.39 L247.70,171.41 L248.20,171.43 L248.70,171.45 L249.20,171.48 L249.70,171.50 L250.20,171.53 L250.70,171.55 L251.20,171.58 L251.70,171.62 L252.20,171.65 L252.70,171.69 L253.20,171.73 L253.70,171.77 L254.20,171.81 L254.70,171.86 L255.20,171.91 L255.70,171.96 L256.20,172.02 L256.70,172.08 L257.20,172.15 L257.70,172.22 L258.20,172.29 L258.70,172.37 L259.20,172.46 L259.70,172.55 L260.20,172.64 L260.70,172.75 L261.20,172.86 L261.70,172.97 L262.20,173.10 L262.70,173.23 L263.20,173.37 L263.70,173.53 L264.20,173.69 L264.70,173.86 L265.20,174.04 L265.70,174.23 L266.20,174.44 L266.70,174.66 L267.20,174.90 L267.70,175.14 L268.20,175.41 L268.70,175.69 L269.20,175.99 L269.70,176.31 L270.20,176.64 L270.70,177.00 L271.20,177.38 L271.70,177.78 L272.20,178.21 L272.70,178.66 L273.20,179.14 L273.70,179.65 L274.20,180.18 L274.70,180.75 L275.20,181.35 L275.70,181.98 L276.20,182.64 L276.70,183.34 L277.20,184.08 L277.70,184.85 L278.20,185.67 L278.70,186.52 L279.20,187.42 L279.70,188.35 L280.20,189.33 L280.70,190.35 L281.20,191.41 L281.70,192.52 L282.20,193.66 L282.70,194.85 L283.20,196.08 L283.70,197.35 L284.20,198.66 L284.70,200.00 L285.20,201.38 L285.70,202.78 L286.20,204.21 L286.70,205.67 L287.20,207.14 L287.70,208.63 L288.20,210.12 L288.70,211.61 L289.20,213.11 L289.70,214.59 L290.20,216.05 L290.70,217.49 L291.20,218.90 L291.70,220.28 L292.20,221.61 L292.70,222.88 L293.20,224.11 L293.70,225.27 L294.20,226.37 L294.70,227.39 L295.20,228.35 L295.70,229.22 L296.20,230.03 L296.70,230.76 L297.20,231.41 L297.70,231.99 L298.20,232.50 L298.70,232.95 L299.20,233.33 L299.70,233.66 L300.20,233.94 L300.70,234.17 L301.20,234.36 L301.70,234.51 L302.20,234.63 L302.70,234.73 L303.20,234.81 L303.70,234.86 L304.20,234.91 L304.70,234.94 L305.20,234.97 L305.70,234.98 L306.20,235.00 L306.70,235.00 L307.20,235.01 L307.70,235.01 L308.20,235.02 L308.70,235.02 L309.20,235.02 L309.70,235.02 L310.20,235.02 L310.70,235.02 L311.20,235.02 L311.70,235.02 L312.20,235.02 L312.70,235.02 L313.20,235.02 L313.70,235.02 L314.20,235.02 L314.70,235.02 L315.20,235.02 L315.70,235.02 L316.20,235.02 L316.70,235.02 L317.20,235.02 L317.70,235.02 L318.20,235.02 L318.70,235.02 L319.20,235.02 L319.70,235.02 L320.20,235.02 L320.70,235.02 L321.20,235.02 L321.70,235.02 L322.20,235.02 L322.70,235.02 L323.20,235.02 L323.70,235.02 L324.20,235.02 L324.70,235.02 L325.20,235.02 L325.70,235.02 L326.20,235.02 L326.70,235.02" fill="none" stroke="#4a4a4a" stroke-width="1.0" stroke-linejoin="round"/>
<circle cx="198" cy="173.6" r="1.85" fill="#000"/>
<circle cx="249" cy="169.2" r="1.85" fill="#000"/>
<circle cx="261.9" cy="173.2" r="1.85" fill="#000"/>
<circle cx="275.1" cy="183.4" r="1.85" fill="#000"/>
<circle cx="288" cy="212.8" r="1.85" fill="#000"/>
<circle cx="300.9" cy="229.6" r="1.85" fill="#000"/>
<circle cx="313.5" cy="229.9" r="1.85" fill="#000"/>
<circle cx="326.4" cy="245.5" r="1.85" fill="#000"/>
<line x1="374.8" y1="27.759999999999998" x2="374.8" y2="251.88" stroke="#000" stroke-width="1.4"/>
<line x1="369.90000000000003" y1="28.459999999999997" x2="374.8" y2="28.459999999999997" stroke="#000" stroke-width="1.4"/>
<text transform="translate(369.40,30.62) scale(1.18,1)" font-size="7.4" text-anchor="end" fill="#1a1a1a" class="lab">2</text>
<line x1="369.90000000000003" y1="56.3" x2="374.8" y2="56.3" stroke="#000" stroke-width="1.4"/>
<text transform="translate(369.40,58.46) scale(1.18,1)" font-size="7.4" text-anchor="end" fill="#1a1a1a" class="lab">0</text>
<line x1="369.90000000000003" y1="84.14" x2="374.8" y2="84.14" stroke="#000" stroke-width="1.4"/>
<text transform="translate(369.40,86.30) scale(1.18,1)" font-size="7.4" text-anchor="end" fill="#1a1a1a" class="lab">-2</text>
<line x1="369.90000000000003" y1="111.97999999999999" x2="374.8" y2="111.97999999999999" stroke="#000" stroke-width="1.4"/>
<text transform="translate(369.40,114.14) scale(1.18,1)" font-size="7.4" text-anchor="end" fill="#1a1a1a" class="lab">-4</text>
<line x1="369.90000000000003" y1="139.82" x2="374.8" y2="139.82" stroke="#000" stroke-width="1.4"/>
<text transform="translate(369.40,141.98) scale(1.18,1)" font-size="7.4" text-anchor="end" fill="#1a1a1a" class="lab">-6</text>
<line x1="369.90000000000003" y1="167.66" x2="374.8" y2="167.66" stroke="#000" stroke-width="1.4"/>
<text transform="translate(369.40,169.82) scale(1.18,1)" font-size="7.4" text-anchor="end" fill="#1a1a1a" class="lab">-8</text>
<line x1="369.90000000000003" y1="195.5" x2="374.8" y2="195.5" stroke="#000" stroke-width="1.4"/>
<text transform="translate(369.40,197.66) scale(1.18,1)" font-size="7.4" text-anchor="end" fill="#1a1a1a" class="lab">-10</text>
<line x1="369.90000000000003" y1="223.33999999999997" x2="374.8" y2="223.33999999999997" stroke="#000" stroke-width="1.4"/>
<text transform="translate(369.40,225.50) scale(1.18,1)" font-size="7.4" text-anchor="end" fill="#1a1a1a" class="lab">-12</text>
<line x1="369.90000000000003" y1="251.18" x2="374.8" y2="251.18" stroke="#000" stroke-width="1.4"/>
<text transform="translate(369.40,253.34) scale(1.18,1)" font-size="7.4" text-anchor="end" fill="#1a1a1a" class="lab">-14</text>
<line x1="374.1" y1="251.18" x2="543.4" y2="251.18" stroke="#000" stroke-width="1.4"/>
<line x1="391.4" y1="251.18" x2="391.4" y2="255.68" stroke="#1a1a1a" stroke-width="1.1"/>
<line x1="425.0" y1="251.18" x2="425.0" y2="255.68" stroke="#1a1a1a" stroke-width="1.1"/>
<line x1="458.6" y1="251.18" x2="458.6" y2="255.68" stroke="#1a1a1a" stroke-width="1.1"/>
<line x1="492.2" y1="251.18" x2="492.2" y2="255.68" stroke="#1a1a1a" stroke-width="1.1"/>
<line x1="525.8" y1="251.18" x2="525.8" y2="255.68" stroke="#1a1a1a" stroke-width="1.1"/>
<line x1="440.9" y1="28.2" x2="440.9" y2="41.2" stroke="#777" stroke-width="1.2" stroke-dasharray="1.2 0.8"/>
<line x1="440.9" y1="54.5" x2="440.9" y2="251.18" stroke="#777" stroke-width="1.2" stroke-dasharray="1.2 0.8"/>
<line x1="508.8" y1="28.5" x2="508.8" y2="251.18" stroke="#808080" stroke-width="1.1" stroke-dasharray="1.5 0.5"/>
<line x1="542.6" y1="28.5" x2="542.6" y2="251.18" stroke="#808080" stroke-width="1.1" stroke-dasharray="1.5 0.5"/>
<text font-size="8.45" text-anchor="middle" fill="#1a1a1a" transform="translate(347,145) scale(1.0,1) rotate(-90)" dy="2.96">Relative gene expression (−ΔCt)</text>
<text x="453.5" y="25.6" font-size="10.2" text-anchor="middle" fill="#1a1a1a" font-style="italic" class="lab">bCOL10A1</text>
<line x1="423.5" y1="42.2" x2="493.3" y2="42.2" stroke="#222" stroke-width="1"/>
<line x1="423.5" y1="52.2" x2="460.2" y2="52.2" stroke="#222" stroke-width="1"/>
<text transform="translate(458.70,40.40) scale(1.12,1)" font-size="7.8" text-anchor="middle" fill="#1a1a1a" >ns</text>
<text transform="translate(442.10,50.30) scale(1.12,1)" font-size="7.8" text-anchor="middle" fill="#1a1a1a" >ns</text>
<text x="394.79999999999995" y="260.8" font-size="7.9" text-anchor="end" fill="#1a1a1a" transform="rotate(-45 394.79999999999995 260.8)">Baseline</text>
<text x="428.4" y="260.8" font-size="7.9" text-anchor="end" fill="#1a1a1a" transform="rotate(-45 428.4 260.8)">Ctrl</text>
<text x="462.0" y="260.8" font-size="7.9" text-anchor="end" fill="#1a1a1a" transform="rotate(-45 462.0 260.8)">IL-1β</text>
<text x="495.59999999999997" y="260.8" font-size="7.9" text-anchor="end" fill="#1a1a1a" transform="rotate(-45 495.59999999999997 260.8)">OAS-cm</text>
<text x="529.1999999999999" y="260.8" font-size="7.9" text-anchor="end" fill="#1a1a1a" transform="rotate(-45 529.1999999999999 260.8)">TGFβ</text>
<line x1="418.8" y1="283.7" x2="529.3" y2="283.7" stroke="#222" stroke-width="1"/>
<text x="479.7" y="294.6" font-size="9.0" text-anchor="middle" fill="#1a1a1a" class="lab">2 weeks culture</text>
<line x1="391.6" y1="189.3" x2="391.6" y2="209.0" stroke="#222" stroke-width="0.9"/>
<line x1="380.6" y1="199.1" x2="402.6" y2="199.1" stroke="#222" stroke-width="1"/>
<line x1="386.1" y1="189.3" x2="397.1" y2="189.3" stroke="#222" stroke-width="0.9"/>
<line x1="386.1" y1="209.0" x2="397.1" y2="209.0" stroke="#222" stroke-width="0.9"/>
<circle cx="391.5" cy="163.0" r="2.65" fill="#fff" stroke="#1a1a1a" stroke-width="1.15"/>
<circle cx="391.5" cy="172.2" r="2.65" fill="#fff" stroke="#1a1a1a" stroke-width="1.15"/>
<circle cx="389.1" cy="189.1" r="2.65" fill="#fff" stroke="#1a1a1a" stroke-width="1.15"/>
<circle cx="386.7" cy="192.9" r="2.65" fill="#fff" stroke="#1a1a1a" stroke-width="1.15"/>
<circle cx="391.7" cy="193.7" r="2.65" fill="#fff" stroke="#1a1a1a" stroke-width="1.15"/>
<circle cx="396.3" cy="193.3" r="2.65" fill="#fff" stroke="#1a1a1a" stroke-width="1.15"/>
<circle cx="395.7" cy="198" r="2.65" fill="#fff" stroke="#1a1a1a" stroke-width="1.15"/>
<circle cx="386.9" cy="201.3" r="2.65" fill="#fff" stroke="#1a1a1a" stroke-width="1.15"/>
<circle cx="391.7" cy="203.7" r="2.65" fill="#fff" stroke="#1a1a1a" stroke-width="1.15"/>
<circle cx="386.9" cy="207.1" r="2.65" fill="#fff" stroke="#1a1a1a" stroke-width="1.15"/>
<circle cx="395.7" cy="208.7" r="2.65" fill="#fff" stroke="#1a1a1a" stroke-width="1.15"/>
<circle cx="391.7" cy="214.7" r="2.65" fill="#fff" stroke="#1a1a1a" stroke-width="1.15"/>
<circle cx="391.5" cy="222" r="2.65" fill="#fff" stroke="#1a1a1a" stroke-width="1.15"/>
<circle cx="391.5" cy="234.6" r="2.65" fill="#fff" stroke="#1a1a1a" stroke-width="1.15"/>
<line x1="425.0" y1="89.2" x2="425.0" y2="108.5" stroke="#222" stroke-width="0.9"/>
<line x1="414.0" y1="97.8" x2="436.0" y2="97.8" stroke="#222" stroke-width="1"/>
<line x1="419.5" y1="89.2" x2="430.5" y2="89.2" stroke="#222" stroke-width="0.9"/>
<line x1="419.5" y1="108.5" x2="430.5" y2="108.5" stroke="#222" stroke-width="0.9"/>
<circle cx="420.5" cy="71.7" r="2.65" fill="#fff" stroke="#1a1a1a" stroke-width="1.15"/>
<circle cx="429.4" cy="71.7" r="2.65" fill="#fff" stroke="#1a1a1a" stroke-width="1.15"/>
<circle cx="429.4" cy="78.7" r="2.65" fill="#fff" stroke="#1a1a1a" stroke-width="1.15"/>
<circle cx="420.5" cy="82.2" r="2.65" fill="#fff" stroke="#1a1a1a" stroke-width="1.15"/>
<circle cx="420.5" cy="84.0" r="2.65" fill="#fff" stroke="#1a1a1a" stroke-width="1.15"/>
<circle cx="420.5" cy="87.5" r="2.65" fill="#fff" stroke="#1a1a1a" stroke-width="1.15"/>
<circle cx="429.4" cy="87.7" r="2.65" fill="#fff" stroke="#1a1a1a" stroke-width="1.15"/>
<circle cx="429.4" cy="90.0" r="2.65" fill="#fff" stroke="#1a1a1a" stroke-width="1.15"/>
<circle cx="429.4" cy="100.1" r="2.65" fill="#fff" stroke="#1a1a1a" stroke-width="1.15"/>
<circle cx="421" cy="104.9" r="2.65" fill="#fff" stroke="#1a1a1a" stroke-width="1.15"/>
<circle cx="421" cy="116.9" r="2.65" fill="#fff" stroke="#1a1a1a" stroke-width="1.15"/>
<circle cx="429.4" cy="117.5" r="2.65" fill="#fff" stroke="#1a1a1a" stroke-width="1.15"/>
<circle cx="421" cy="121.9" r="2.65" fill="#fff" stroke="#1a1a1a" stroke-width="1.15"/>
<circle cx="429.4" cy="124.5" r="2.65" fill="#fff" stroke="#1a1a1a" stroke-width="1.15"/>
<circle cx="424.7" cy="127.7" r="2.65" fill="#fff" stroke="#1a1a1a" stroke-width="1.15"/>
<line x1="458.6" y1="87.0" x2="458.6" y2="115.0" stroke="#222" stroke-width="0.9"/>
<line x1="447.6" y1="101.0" x2="469.6" y2="101.0" stroke="#222" stroke-width="1"/>
<line x1="453.1" y1="87.0" x2="464.1" y2="87.0" stroke="#222" stroke-width="0.9"/>
<line x1="453.1" y1="115.0" x2="464.1" y2="115.0" stroke="#222" stroke-width="0.9"/>
<circle cx="458.7" cy="63.9" r="2.65" fill="#fff" stroke="#1a1a1a" stroke-width="1.15"/>
<circle cx="458.7" cy="80.7" r="2.65" fill="#fff" stroke="#1a1a1a" stroke-width="1.15"/>
<circle cx="454.5" cy="101.2" r="2.65" fill="#fff" stroke="#1a1a1a" stroke-width="1.15"/>
<circle cx="463.3" cy="98.9" r="2.65" fill="#fff" stroke="#1a1a1a" stroke-width="1.15"/>
<circle cx="458.7" cy="104" r="2.65" fill="#fff" stroke="#1a1a1a" stroke-width="1.15"/>
<circle cx="463.3" cy="110.5" r="2.65" fill="#fff" stroke="#1a1a1a" stroke-width="1.15"/>
<circle cx="454.5" cy="115.2" r="2.65" fill="#fff" stroke="#1a1a1a" stroke-width="1.15"/>
<circle cx="463.3" cy="116.8" r="2.65" fill="#fff" stroke="#1a1a1a" stroke-width="1.15"/>
<circle cx="454.5" cy="117.5" r="2.65" fill="#fff" stroke="#1a1a1a" stroke-width="1.15"/>
<line x1="492.4" y1="76.7" x2="492.4" y2="109.6" stroke="#222" stroke-width="0.9"/>
<line x1="481.4" y1="93.2" x2="503.4" y2="93.2" stroke="#222" stroke-width="1"/>
<line x1="486.9" y1="76.7" x2="497.9" y2="76.7" stroke="#222" stroke-width="0.9"/>
<line x1="486.9" y1="109.6" x2="497.9" y2="109.6" stroke="#222" stroke-width="0.9"/>
<circle cx="492.5" cy="68.5" r="2.65" fill="#fff" stroke="#1a1a1a" stroke-width="1.15"/>
<circle cx="488.3" cy="88" r="2.65" fill="#fff" stroke="#1a1a1a" stroke-width="1.15"/>
<circle cx="497.1" cy="91.3" r="2.65" fill="#fff" stroke="#1a1a1a" stroke-width="1.15"/>
<circle cx="492.3" cy="92.7" r="2.65" fill="#fff" stroke="#1a1a1a" stroke-width="1.15"/>
<circle cx="492.3" cy="102.7" r="2.65" fill="#fff" stroke="#1a1a1a" stroke-width="1.15"/>
<circle cx="492.3" cy="115.7" r="2.65" fill="#fff" stroke="#1a1a1a" stroke-width="1.15"/>
<line x1="526.0" y1="141.0" x2="526.0" y2="166.0" stroke="#222" stroke-width="0.9"/>
<line x1="515.0" y1="153.4" x2="537.0" y2="153.4" stroke="#222" stroke-width="1"/>
<line x1="520.5" y1="141.0" x2="531.5" y2="141.0" stroke="#222" stroke-width="0.9"/>
<line x1="520.5" y1="166.0" x2="531.5" y2="166.0" stroke="#222" stroke-width="0.9"/>
<circle cx="522.1" cy="124" r="2.65" fill="#fff" stroke="#1a1a1a" stroke-width="1.15"/>
<circle cx="530.5" cy="124" r="2.65" fill="#fff" stroke="#1a1a1a" stroke-width="1.15"/>
<circle cx="530.5" cy="129.1" r="2.65" fill="#fff" stroke="#1a1a1a" stroke-width="1.15"/>
<circle cx="522.1" cy="135.4" r="2.65" fill="#fff" stroke="#1a1a1a" stroke-width="1.15"/>
<circle cx="522.1" cy="138.4" r="2.65" fill="#fff" stroke="#1a1a1a" stroke-width="1.15"/>
<circle cx="530.5" cy="145.9" r="2.65" fill="#fff" stroke="#1a1a1a" stroke-width="1.15"/>
<circle cx="517" cy="151.9" r="2.65" fill="#fff" stroke="#1a1a1a" stroke-width="1.15"/>
<circle cx="526" cy="151.9" r="2.65" fill="#fff" stroke="#1a1a1a" stroke-width="1.15"/>
<circle cx="522" cy="158.5" r="2.65" fill="#fff" stroke="#1a1a1a" stroke-width="1.15"/>
<circle cx="531" cy="157.9" r="2.65" fill="#fff" stroke="#1a1a1a" stroke-width="1.15"/>
<circle cx="526.6" cy="163" r="2.65" fill="#fff" stroke="#1a1a1a" stroke-width="1.15"/>
<circle cx="517" cy="166.9" r="2.65" fill="#fff" stroke="#1a1a1a" stroke-width="1.15"/>
<circle cx="526.6" cy="166.9" r="2.65" fill="#fff" stroke="#1a1a1a" stroke-width="1.15"/>
<circle cx="530.5" cy="191.5" r="2.65" fill="#fff" stroke="#1a1a1a" stroke-width="1.15"/>
<circle cx="522.1" cy="198.4" r="2.65" fill="#fff" stroke="#1a1a1a" stroke-width="1.15"/>
</svg>
</body></html>
